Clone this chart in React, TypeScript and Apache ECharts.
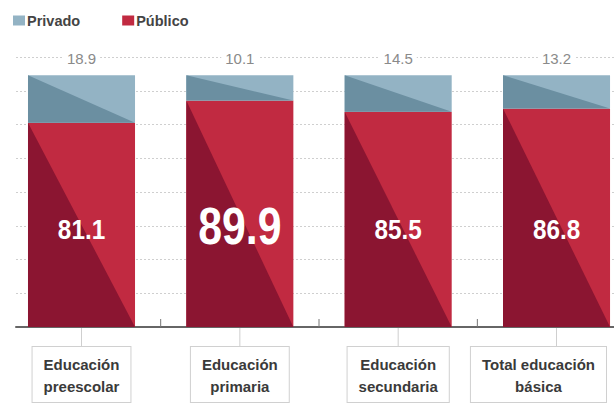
import React, { useEffect, useRef } from "react";
import * as echarts from "echarts";

const categories = [
  "Educación\npreescolar",
  "Educación\nprimaria",
  "Educación\nsecundaria",
  "Total educación\nbásica",
];
const publico = [81.1, 89.9, 85.5, 86.8];
const privado = [18.9, 10.1, 14.5, 13.2];
const highlighted = "Educación\nprimaria";

const yMax = 107.2;
const yInterval = 13.4;
const labelLevel = 37.5;

const FONT = "'Liberation Sans', Arial, sans-serif";

const pubLight = "#c12a41";
const pubDark = "#8b1531";
const privLight = "#93b3c4";
const privDark = "#6b8fa1";

function measure(text: string, font: string): number {
  const c = document.createElement("canvas").getContext("2d");
  if (!c) return 0;
  c.font = font;
  return Math.max(...text.split("\n").map((l) => c.measureText(l).width));
}

export default function App() {
  const ref = useRef<HTMLDivElement>(null);
  useEffect(() => {
    document.body.style.margin = "0";
    const chart = echarts.init(ref.current!, undefined, { renderer: "svg" });
    const barW = 0.676;
    const boxFont = "bold 15px 'Liberation Sans', Arial, sans-serif";
    const padX = 11;

    const pubData = publico.map((v, i) => [i, v]);
    const privData = privado.map((v, i) => [i, publico[i], publico[i] + v, v]);

    chart.setOption({
      animation: false,
      grid: { left: 16, right: 0, top: 57, bottom: 77 },
      legend: {
        left: 8,
        top: 8,
        icon: "rect",
        itemWidth: 12,
        itemHeight: 10,
        itemGap: 42,
        textStyle: { fontFamily: FONT, fontWeight: "bold", fontSize: 14.5, color: "#444", padding: [0, 0, 0, -3] },
        data: ["Privado", "Público"],
      },
      xAxis: {
        type: "value",
        min: -0.4137,
        max: 3.363,
        axisLine: { show: true, onZero: true, lineStyle: { color: "#666", width: 2 } },
        axisTick: { show: false },
        axisLabel: { show: false },
        splitLine: { show: false },
      },
      yAxis: {
        type: "value",
        min: 0,
        max: yMax,
        interval: yInterval,
        axisLine: { show: false },
        axisTick: { show: false },
        axisLabel: { show: false },
        splitLine: { show: true, lineStyle: { color: "#cfcfcf", type: [2, 2], width: 1 } },
      },
      series: [
        {
          name: "Público",
          type: "custom",
          clip: false,
          itemStyle: { color: pubLight },
          data: pubData,
          encode: { x: 0, y: 1 },
          renderItem: (params: any, api: any) => {
            const x = api.value(0);
            const v = api.value(1);
            const i = params.dataIndex;
            const top = api.coord([x, v]);
            const bot = api.coord([x, 0]);
            const w = api.size([barW, 0])[0];
            const x0 = top[0] - w / 2;
            const x1 = top[0] + w / 2;
            const lab = api.coord([x, labelLevel]);
            const big = categories[i] === highlighted;
            const half = measure(categories[i], boxFont) / 2 + padX + 1;
            const rightLimit = params.coordSys.x + params.coordSys.width - 7;
            const boxX = Math.min(bot[0], rightLimit - half);
            const children: any[] = [
              { type: "rect", shape: { x: x0, y: top[1], width: w, height: bot[1] - top[1] }, style: { fill: pubLight } },
              { type: "polygon", shape: { points: [[x0, top[1]], [x0, bot[1]], [x1, bot[1]]] }, style: { fill: pubDark } },
              {
                type: "text",
                x: lab[0],
                y: lab[1] - (big ? 6 : 3),
                scaleX: big ? 0.84 : 0.9,
                style: {
                  text: String(v),
                  fill: "#fff",
                  fontFamily: FONT,
                  fontWeight: "bold",
                  fontSize: big ? 51 : 27,
                  align: "center",
                  verticalAlign: "middle",
                },
              },
              { type: "line", shape: { x1: bot[0], y1: bot[1] + 1, x2: bot[0], y2: bot[1] + 20 }, style: { stroke: "#cfcfcf", lineWidth: 1 } },
              {
                type: "text",
                x: boxX,
                y: bot[1] + 20,
                style: {
                  text: categories[i],
                  fill: "#3a3a3a",
                  fontFamily: FONT,
                  fontWeight: "bold",
                  fontSize: 15,
                  lineHeight: 22,
                  align: "center",
                  verticalAlign: "top",
                  backgroundColor: "#fff",
                  borderColor: "#d0d0d0",
                  borderWidth: 1,
                  padding: [6, padX, 5, padX],
                },
              },
            ];
            if (i < categories.length - 1) {
              const t = api.coord([x + 0.5, 0]);
              children.push({ type: "line", shape: { x1: t[0], y1: t[1], x2: t[0], y2: t[1] - 8 }, style: { stroke: "#777", lineWidth: 1 } });
            }
            return { type: "group", children };
          },
        },
        {
          name: "Privado",
          type: "custom",
          clip: false,
          itemStyle: { color: privLight },
          data: privData,
          encode: { x: 0, y: 2 },
          renderItem: (params: any, api: any) => {
            const x = api.value(0);
            const base = api.value(1);
            const topV = api.value(2);
            const v = api.value(3);
            const top = api.coord([x, topV]);
            const bot = api.coord([x, base]);
            const w = api.size([barW, 0])[0];
            const x0 = top[0] - w / 2;
            const x1 = top[0] + w / 2;
            const lab = api.coord([x, yMax]);
            return {
              type: "group",
              children: [
                { type: "rect", shape: { x: x0, y: top[1], width: w, height: bot[1] - top[1] }, style: { fill: privLight } },
                { type: "polygon", shape: { points: [[x0, top[1]], [x0, bot[1]], [x1, bot[1]]] }, style: { fill: privDark } },
                {
                  type: "text",
                  x: lab[0],
                  y: lab[1] + 1,
                  style: {
                    text: String(v),
                    fill: "#8a8a8a",
                    fontFamily: FONT,
                    fontSize: 15,
                    align: "center",
                    verticalAlign: "middle",
                    backgroundColor: "#fff",
                    padding: [0, 4],
                  },
                },
              ],
            };
          },
        },
      ],
    });
    return () => chart.dispose();
  }, []);
  return <div ref={ref} style={{ width: 614, height: 404 }} />;
}
